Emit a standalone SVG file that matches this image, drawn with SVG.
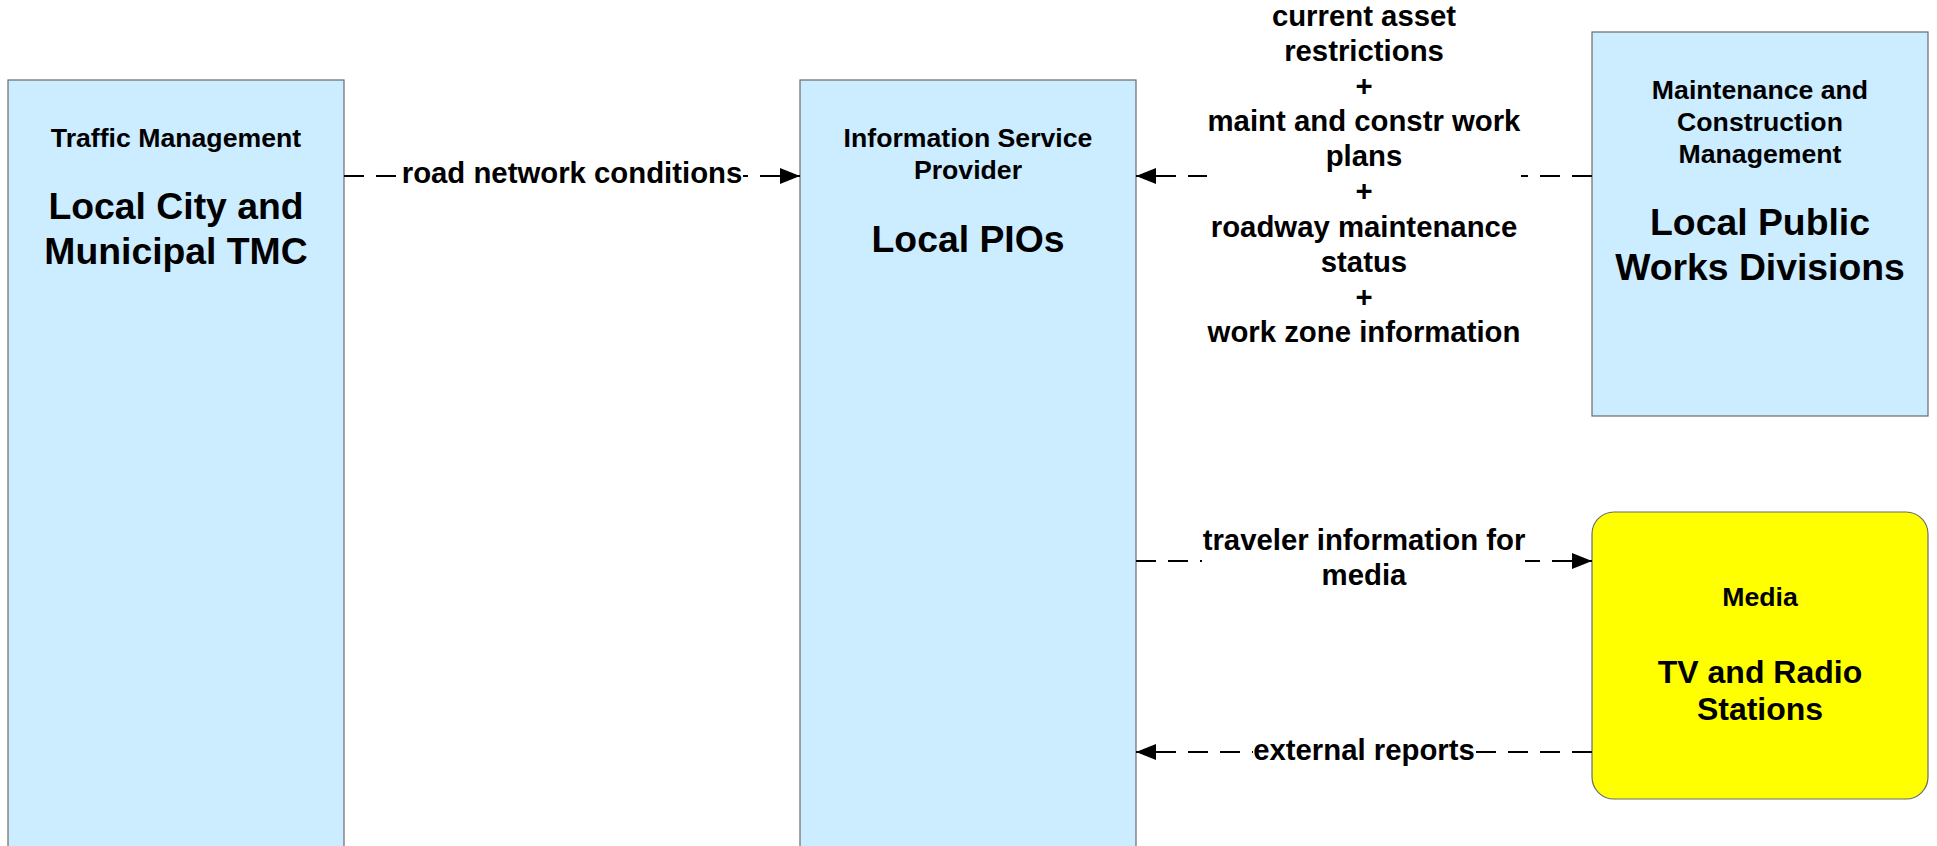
<svg xmlns="http://www.w3.org/2000/svg" width="1937" height="846" viewBox="0 0 1937 846">
<style>
.box{fill:#CCECFF;stroke:#6b6b6b;stroke-width:1.2}
.ext{fill:#FFFF00;stroke:#6b6b6b;stroke-width:1.2}
text{font-family:"Liberation Sans",Arial,sans-serif;font-weight:bold;fill:#000;text-anchor:middle}
.hd{font-size:26.67px}
.tt{font-size:37.33px}
.tm{font-size:32px}
.lb{font-size:29.33px}
.fl{fill:none;stroke:#000;stroke-width:2;stroke-dasharray:20 12}
.bg{fill:#fff}
</style>
<defs>
<marker id="ah" markerWidth="20" markerHeight="16" refX="20" refY="8" orient="auto" markerUnits="userSpaceOnUse">
<path d="M0,0 L20,8 L0,16 Z" fill="#000"/>
</marker>
</defs>
<g id="node-tmc">
<rect class="box" x="8" y="80" width="336" height="800"/>
<text class="hd" x="176" y="147">Traffic Management</text>
<text class="tt" x="176" y="219">Local City and</text>
<text class="tt" x="176" y="264">Municipal TMC</text>
</g>
<g id="node-isp">
<rect class="box" x="800" y="80" width="336" height="800"/>
<text class="hd" x="968" y="147">Information Service</text>
<text class="hd" x="968" y="179">Provider</text>
<text class="tt" x="968" y="252">Local PIOs</text>
</g>
<g id="node-mcm">
<rect class="box" x="1592" y="32" width="336" height="384"/>
<text class="hd" x="1760" y="99">Maintenance and</text>
<text class="hd" x="1760" y="131">Construction</text>
<text class="hd" x="1760" y="163">Management</text>
<text class="tt" x="1760" y="235">Local Public</text>
<text class="tt" x="1760" y="280">Works Divisions</text>
</g>
<g id="node-media">
<rect class="ext" x="1592" y="512" width="336" height="287" rx="22" ry="22"/>
<text class="hd" x="1760" y="606">Media</text>
<text class="tm" x="1760" y="683">TV and Radio</text>
<text class="tm" x="1760" y="720">Stations</text>
</g>
<g id="connectors">
<path class="fl" d="M344,176 L800,176" marker-end="url(#ah)"/>
<rect class="bg" x="401" y="160" width="342" height="32"/>
<text class="lb" x="572" y="183">road network conditions</text>

<path class="fl" d="M1592,176 L1136,176" marker-end="url(#ah)"/>
<rect class="bg" x="1207" y="160" width="314" height="34"/>
<text class="lb" x="1364" y="26">current asset</text>
<text class="lb" x="1364" y="61">restrictions</text>
<text class="lb" x="1364" y="96">+</text>
<text class="lb" x="1364" y="131">maint and constr work</text>
<text class="lb" x="1364" y="166">plans</text>
<text class="lb" x="1364" y="201">+</text>
<text class="lb" x="1364" y="237">roadway maintenance</text>
<text class="lb" x="1364" y="272">status</text>
<text class="lb" x="1364" y="307">+</text>
<text class="lb" x="1364" y="342">work zone information</text>

<path class="fl" d="M1136,561 L1592,561" marker-end="url(#ah)"/>
<rect class="bg" x="1202" y="528" width="323" height="64"/>
<text class="lb" x="1364" y="550">traveler information for</text>
<text class="lb" x="1364" y="585">media</text>

<path class="fl" d="M1592,752 L1136,752" marker-end="url(#ah)"/>
<rect class="bg" x="1253" y="736" width="222" height="32"/>
<text class="lb" x="1364" y="760">external reports</text>
</g>
</svg>
